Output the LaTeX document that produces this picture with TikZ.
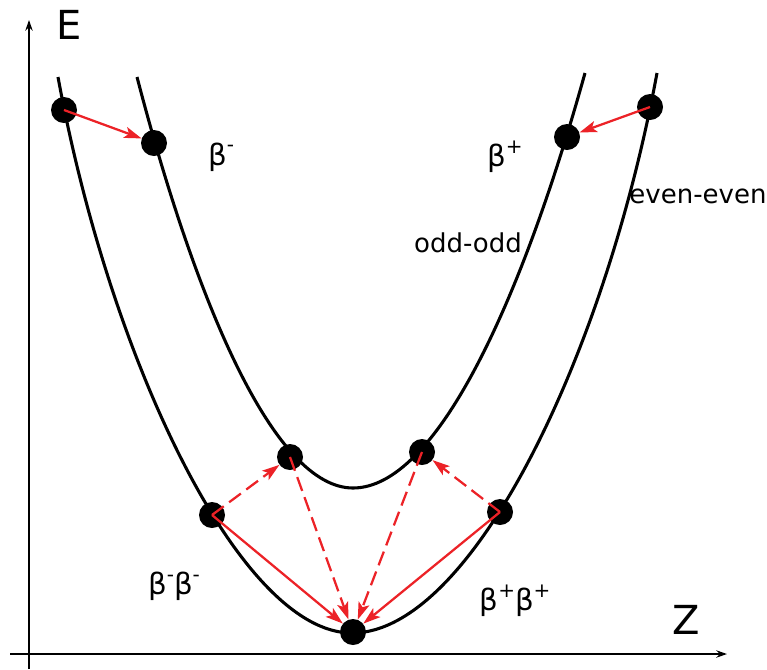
\documentclass[tikz,border=0pt]{standalone}
\usepackage{fontspec}
\setmainfont{DejaVu Sans}
\usetikzlibrary{arrows.meta}
\definecolor{arrred}{RGB}{236,34,39}
\newcommand{\bsup}[1]{\raisebox{0.45em}{\fontsize{15}{15}\selectfont #1}}
\begin{document}
\begin{tikzpicture}[x=0.75pt,y=-0.75pt,
  dot/.style={circle,fill=black,inner sep=0pt,minimum size=19.5pt},
  axis/.style={line width=1.3pt,-{Stealth[length=8pt,width=5.5pt]}},
  curve/.style={line width=2.3pt},
  decay/.style={arrred,line width=1.7pt,-{Stealth[length=13pt,width=8.5pt,inset=3pt]}},
  decaydash/.style={decay,dash pattern=on 11pt off 5pt},
  lbl/.style={font=\fontsize{19.5}{22}\selectfont,inner sep=0pt},
  blbl/.style={font=\fontsize{22}{26}\selectfont,inner sep=0pt},
  axlbl/.style={font=\fontsize{30}{34}\selectfont,inner sep=0pt}]
\useasboundingbox (0,0) rectangle (767,669);
% axes
\coordinate (yb) at (29,669);
\coordinate (yt) at (29,20);
\coordinate (xl) at (10,654);
\coordinate (xr) at (727,654);
\draw[axis] (yb) -- (yt);
\draw[axis] (xl) -- (xr);
\node[axlbl] (E) at (69,25) {E};
\node[axlbl] (Z) at (686,620) {Z};
% curves
\coordinate (evL) at (58,77);
\coordinate (evB) at (352,633);
\coordinate (evR) at (657,73);
\coordinate (odL) at (137,77);
\coordinate (odB) at (353,488);
\coordinate (odR) at (585,73);
\draw[curve] (evL) .. controls (110,360) and (240,633) .. (evB)
  .. controls (470,633) and (604,360) .. (evR);
\draw[curve] (odL) .. controls (197,307) and (275,488) .. (odB)
  .. controls (436,488) and (521,303) .. (odR);
% dots
\node[dot] (ee1) at (64,110) {};
\node[dot] (oo1) at (154,143) {};
\node[dot] (oo4) at (567,137) {};
\node[dot] (ee4) at (650,107) {};
\node[dot] (ee2) at (212,515) {};
\node[dot] (oo2) at (290,457) {};
\node[dot] (oo3) at (422,452) {};
\node[dot] (ee3) at (500,512) {};
\node[dot] (ee0) at (353,632) {};
% arrows
\draw[decay] (ee1.center) -- (oo1);
\draw[decay] (ee4.center) -- (oo4);
\draw[decaydash] (ee2.center) -- (oo2);
\draw[decaydash] (oo2.center) -- (ee0);
\draw[decaydash] (oo3.center) -- (ee0);
\draw[decaydash] (ee3.center) -- (oo3);
\draw[decay] (ee2.center) -- (ee0);
\draw[decay] (ee3.center) -- (ee0);
% labels
\node[blbl] (bm) at (221,157) {β\bsup{-}};
\node[blbl] (bp) at (505,157) {β\bsup{+}};
\node[lbl] (oo) at (468,243) {odd-odd};
\node[lbl] (ee) at (698,196) {even-even};
\node[blbl] (bmbm) at (174,586) {β\bsup{-}β\bsup{-}};
\node[blbl] (bpbp) at (515,601) {β\bsup{+}β\bsup{+}};
\end{tikzpicture}
\end{document}
